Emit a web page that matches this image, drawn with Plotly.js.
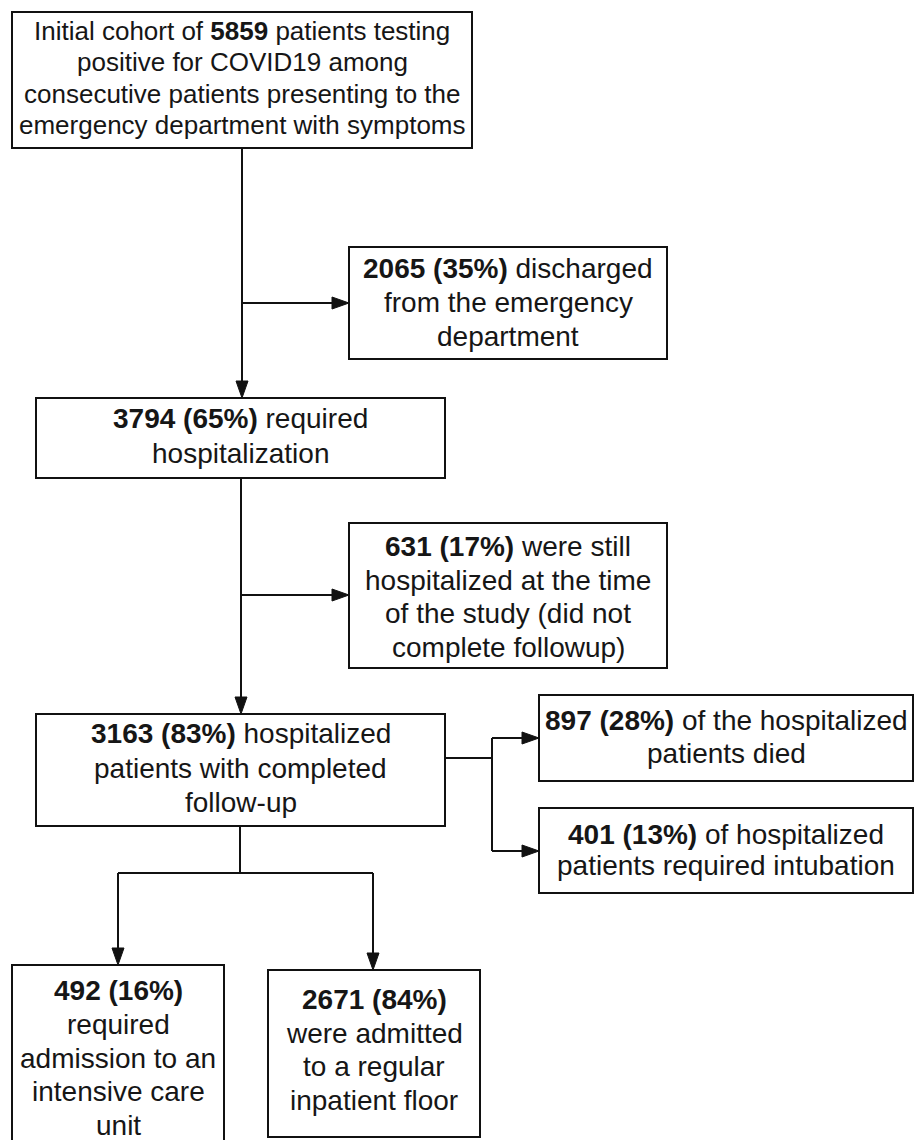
<!DOCTYPE html>
<html>
<head>
<meta charset="utf-8">
<script src="https://cdn.plot.ly/plotly-3.0.1.min.js"></script>
<style>html,body{margin:0;padding:0;background:#fff;}#chart{width:915px;height:1140px;}</style>
</head>
<body>
<div id="chart"></div>
<script>
// ---- data ----
const stageNames = ['initial','discharged','hospitalized','stillHospitalized','completed','died','intubated','icu','floor'];
const stageCounts = [5859, 2065, 3794, 631, 3163, 897, 401, 492, 2671];
const stagePercents = [null, 35, 65, 17, 83, 28, 13, 16, 84];
const stageText = [
  ['Initial cohort of {B} patients testing', 'positive for COVID19 among', 'consecutive patients presenting to the', 'emergency department with symptoms'],
  ['{B} discharged', 'from the emergency', 'department'],
  ['{B} required', 'hospitalization'],
  ['{B} were still', 'hospitalized at the time', 'of the study (did not', 'complete followup)'],
  ['{B} hospitalized', 'patients with completed', 'follow-up'],
  ['{B} of the hospitalized', 'patients died'],
  ['{B} of hospitalized', 'patients required intubation'],
  ['{B}', 'required', 'admission to an', 'intensive care', 'unit'],
  ['{B}', 'were admitted', 'to a regular', 'inpatient floor']
];

// ---- layout geometry (pixels) ----
const boxGeom = [ // x0, x1, y0, y1
  [12, 472, 12, 148],
  [349, 667, 247, 359],
  [36, 445, 398, 478],
  [349, 667, 523, 668],
  [36, 445, 714, 826],
  [539, 913, 695, 781],
  [539, 913, 808, 893],
  [12, 224, 965, 1145],
  [268, 480, 970, 1137]
];
const textCenterY = [78, 302, 436, 597, 768, 737, 850, 1058, 1050];
const fontSizes = [26, 28, 28, 28, 28, 28, 28, 28, 28];
const lineStep = [31.5, 34, 35, 33.5, 34.5, 33.5, 31, 33.8, 33.5];

// connectors: [x0,y0,x1,y1, arrow?]
const connectors = [
  [242, 148, 242, 398, true],
  [242, 303, 349, 303, true],
  [241, 478, 241, 714, true],
  [241, 595, 349, 595, true],
  [445, 758, 492, 758, false],
  [492, 738, 492, 851, false],
  [492, 738, 539, 738, true],
  [492, 851, 539, 851, true],
  [240, 826, 240, 873, false],
  [118, 873, 373, 873, false],
  [118, 873, 118, 965, true],
  [373, 873, 373, 970, true]
];

const FONT = 'Liberation Sans, Arial, Helvetica, sans-serif';
const shapes = [];
const annotations = [];

boxGeom.forEach(function (g) {
  shapes.push({type: 'rect', xref: 'x', yref: 'y', x0: g[0], x1: g[1], y0: g[2], y1: g[3],
    line: {color: '#111', width: 2}, fillcolor: 'rgba(0,0,0,0)'});
});

const HEAD_L = 17, HEAD_W = 6;
connectors.forEach(function (c) {
  let x0 = c[0], y0 = c[1], x1 = c[2], y1 = c[3];
  let ex = x1, ey = y1;
  if (c[4]) {
    const dx = Math.sign(x1 - x0), dy = Math.sign(y1 - y0);
    ex = x1 - dx * HEAD_L; ey = y1 - dy * HEAD_L;
    let p;
    if (dy !== 0) {
      p = 'M ' + (x1 - HEAD_W) + ' ' + ey + ' L ' + (x1 + HEAD_W) + ' ' + ey + ' L ' + x1 + ' ' + y1 + ' Z';
    } else {
      p = 'M ' + ex + ' ' + (y1 - HEAD_W) + ' L ' + ex + ' ' + (y1 + HEAD_W) + ' L ' + x1 + ' ' + y1 + ' Z';
    }
    shapes.push({type: 'path', xref: 'x', yref: 'y', path: p, fillcolor: '#111', line: {color: '#111', width: 1}});
  }
  shapes.push({type: 'line', xref: 'x', yref: 'y', x0: x0, y0: y0, x1: ex, y1: ey, line: {color: '#111', width: 2}});
});

stageText.forEach(function (lines, i) {
  const g = boxGeom[i];
  const cx = (g[0] + g[1]) / 2;
  const pct = stagePercents[i];
  const bold = '<b>' + stageCounts[i] + (pct !== null ? ' (' + pct + '%)' : '') + '</b>';
  const n = lines.length;
  lines.forEach(function (ln, k) {
    annotations.push({
      xref: 'x', yref: 'y', x: cx, y: textCenterY[i] + (k - (n - 1) / 2) * lineStep[i],
      xanchor: 'center', yanchor: 'middle', showarrow: false,
      text: ln.replace('{B}', bold),
      font: {family: FONT, size: fontSizes[i], color: '#161616'}
    });
  });
});

const layout = {
  width: 915, height: 1140,
  margin: {l: 0, r: 0, t: 0, b: 0, pad: 0},
  paper_bgcolor: '#ffffff', plot_bgcolor: '#ffffff',
  showlegend: false,
  xaxis: {range: [0, 915], visible: false, fixedrange: true},
  yaxis: {range: [1140, 0], visible: false, fixedrange: true},
  shapes: shapes,
  annotations: annotations
};

Plotly.newPlot('chart', [], layout, {displayModeBar: false, staticPlot: true});
</script>
</body>
</html>
